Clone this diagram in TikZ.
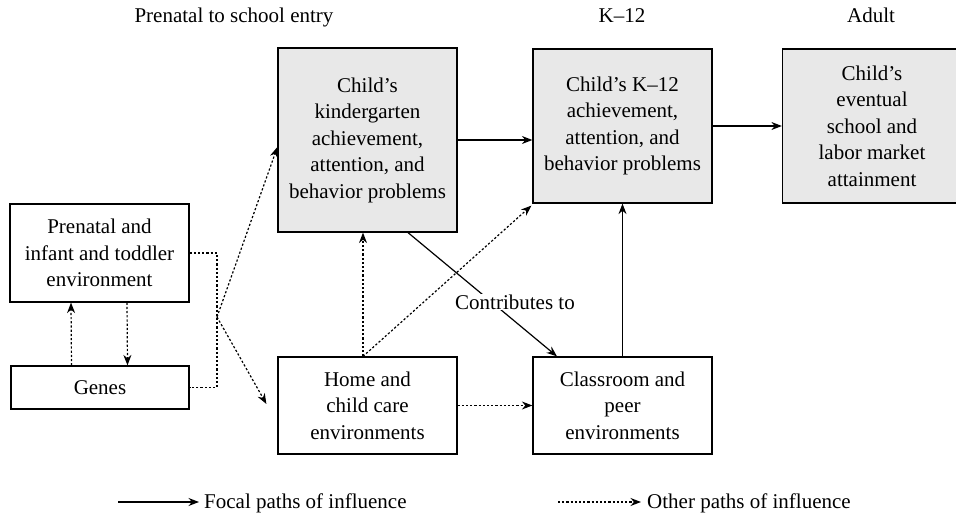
\documentclass[tikz,border=0pt]{standalone}
\usepackage{fontspec}
\setmainfont{Liberation Serif}
\usetikzlibrary{arrows.meta,calc}
\definecolor{boxgray}{HTML}{E8E8E8}
\begin{document}
\begin{tikzpicture}[x=1pt,y=-1pt,
  every node/.style={font=\fontsize{21}{26.5}\selectfont},
  box/.style={draw=black,line width=1.2pt,align=center,inner sep=2pt,minimum width=179pt},
  gbox/.style={box,fill=boxgray},
  tip/.style={-{Stealth[length=10.5pt,width=8pt]}},
  focal/.style={line width=1.2pt,tip},
  otherln/.style={line width=1.2pt,dash pattern=on 2.2pt off 2pt},
  other/.style={otherln,tip},
  ]
\useasboundingbox (0,0) rectangle (956,516);
\fill[white] (0,0) rectangle (956,516);

% headers
\node[anchor=base] (h1) at (234,23) {Prenatal to school entry};
\node[anchor=base] (h2) at (622,23) {K–12};
\node[anchor=base] (h3) at (871,23) {Adult};

% boxes
\node[box,minimum height=98pt] (pren) at (99.5,253) {Prenatal and\\infant and toddler\\environment};
\node[box,minimum width=178pt,minimum height=43pt] (genes) at (100,387.5) {Genes};
\node[gbox,minimum height=184pt] (kg) at (367.5,140) {Child's\\kindergarten\\achievement,\\attention, and\\behavior problems};
\node[gbox,minimum height=154pt] (k12) at (622.5,126) {Child's K–12\\achievement,\\attention, and\\behavior problems};
\node[gbox,minimum height=154pt] (adult) at (872,126) {Child's\\eventual\\school and\\labor market\\attainment};
\node[box,minimum height=97pt] (home) at (367.5,405.5) {Home and\\child care\\environments};
\node[box,minimum height=97pt] (cls) at (622.5,405.5) {Classroom and\\peer\\environments};

% focal paths
\draw[focal] (kg.east) -- (kg.east -| k12.west);
\draw[focal] (k12.east) -- (adult.west);
\draw[focal] (cls.north) -- (k12.south);
\draw[focal] ([xshift=40.5pt]kg.south) -- ([xshift=-65.5pt]cls.north);
\node[fill=white,inner sep=1pt] (contrib) at (515,302) {Contributes to};

% other paths
\coordinate (hub) at (217,317);
\draw[otherln] (pren.east) -- (pren.east -| hub) -- (genes.east -| hub) -- (genes.east);
\draw[other] (hub) -- ([yshift=-7pt]kg.west);
\draw[other] (hub) -- ([xshift=-11pt,yshift=1.5pt]home.west);
\draw[other] ([xshift=-28.5pt]genes.north) -- ([xshift=-28.5pt]pren.south);
\draw[other] ([xshift=27.5pt]pren.south) -- ([xshift=27.5pt]genes.north);
\draw[other] ([xshift=-4.5pt]home.north) -- ([xshift=-4.5pt]kg.south);
\draw[other] ([xshift=-4.5pt]home.north) -- ([xshift=-1pt,yshift=-2pt]k12.south west);
\draw[other] (home.east) -- (cls.west);

% legend
\coordinate (la) at (118,502);
\coordinate (lb) at (199,502);
\draw[focal] (la) -- (lb);
\node[anchor=base west,inner sep=0pt] (lt1) at (204,508) {Focal paths of influence};
\coordinate (lc) at (558,502);
\coordinate (ld) at (641,502);
\draw[other] (lc) -- (ld);
\node[anchor=base west,inner sep=0pt] (lt2) at (647,508) {Other paths of influence};
\end{tikzpicture}
\end{document}
